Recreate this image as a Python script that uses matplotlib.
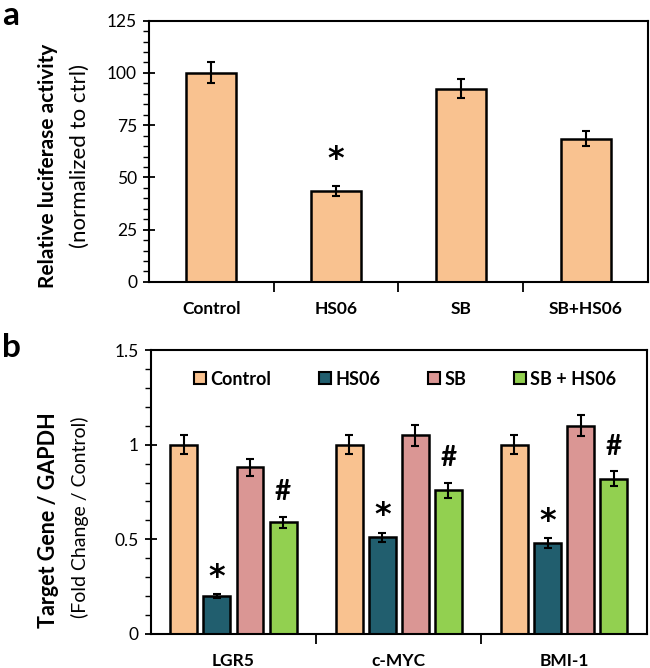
import numpy as np
import matplotlib
matplotlib.use("Agg")
import matplotlib.pyplot as plt
from matplotlib.ticker import MultipleLocator
from matplotlib.lines import Line2D

plt.rcParams['font.family'] = ['Lato', 'DejaVu Sans']

# panel a data
a_groups = ['Control', 'HS06', 'SB', 'SB+HS06']
a_values = [100, 43.5, 92.5, 68.5]
a_errors = [5, 2.5, 4.5, 3.5]
a_marks = ['', '*', '', '']

# panel b data
b_genes = ['LGR5', 'c-MYC', 'BMI-1']
b_series = ['Control', 'HS06', 'SB', 'SB + HS06']
b_values = [[1.00, 1.00, 1.00],
            [0.20, 0.51, 0.48],
            [0.88, 1.05, 1.10],
            [0.59, 0.76, 0.82]]
b_errors = [[0.05, 0.05, 0.05],
            [0.01, 0.025, 0.025],
            [0.045, 0.055, 0.055],
            [0.03, 0.04, 0.04]]
b_marks = [['', '', ''], ['*', '*', '*'], ['', '', ''], ['#', '#', '#']]

colors = ['#F9C290', '#215E6E', '#DA9694', '#92D050']

fig = plt.figure(figsize=(6.5, 6.68), dpi=100)


def style_axes(ax):
    for s in ax.spines.values():
        s.set_linewidth(1.5)
    ax.tick_params(axis='y', which='major', direction='inout', length=9, width=1.3,
                   labelsize=12.5, pad=4)
    ax.tick_params(axis='y', which='minor', direction='out', length=4, width=1.0)
    ax.tick_params(axis='x', which='major', length=0, labelsize=12.5, pad=14)
    ax.tick_params(axis='x', which='minor', direction='out', length=7, width=1.3)
    for lbl in ax.get_xticklabels():
        lbl.set_fontweight('bold')


def mark(ax, x, y, m):
    # star drawn in DejaVu (larger, centred glyph), hash in Lato
    if m == '*':
        ax.text(x, y, m, ha='center', va='center', fontsize=23, fontweight='bold',
                family='DejaVu Sans')
    else:
        ax.text(x, y, m, ha='center', va='center', fontsize=20, fontweight='bold')


# ---- panel a ----
ax1 = fig.add_axes([0.229, 0.578, 0.768, 0.391])
x = np.arange(len(a_groups))
ax1.bar(x, a_values, width=0.4, color=colors[0], edgecolor='black', linewidth=1.8, zorder=2)
ax1.errorbar(x, a_values, yerr=a_errors, fmt='none', ecolor='black', elinewidth=1.5,
             capsize=3, capthick=1.5, zorder=3)
for xi, v, e, m in zip(x, a_values, a_errors, a_marks):
    if m:
        mark(ax1, xi, v + e + 12.5, m)
ax1.set_xlim(-0.5, len(a_groups) - 0.5)
ax1.set_ylim(0, 125)
ax1.set_xticks(x)
ax1.set_xticklabels(a_groups)
ax1.set_xticks(np.arange(0.5, len(a_groups) - 1), minor=True)
ax1.yaxis.set_major_locator(MultipleLocator(25))
ax1.yaxis.set_minor_locator(MultipleLocator(5))
style_axes(ax1)

# ---- panel b ----
ax2 = fig.add_axes([0.232, 0.051, 0.763, 0.425])
xg = np.arange(len(b_genes))
pitch = 0.2
for i, name in enumerate(b_series):
    xs = xg + (i - 1.5) * pitch
    ax2.bar(xs, b_values[i], width=0.163, color=colors[i], edgecolor='black',
            linewidth=1.8, zorder=2)
    ax2.errorbar(xs, b_values[i], yerr=b_errors[i], fmt='none', ecolor='black',
                 elinewidth=1.5, capsize=3, capthick=1.5, zorder=3)
    for xv, v, e, m in zip(xs, b_values[i], b_errors[i], b_marks[i]):
        if m == '*':
            mark(ax2, xv, v + e + 0.09, m)
        elif m:
            mark(ax2, xv, v + e + 0.13, m)
ax2.set_xlim(-0.5, len(b_genes) - 0.5)
ax2.set_ylim(0, 1.5)
ax2.set_xticks(xg)
ax2.set_xticklabels(b_genes)
ax2.set_xticks(np.arange(0.5, len(b_genes) - 1), minor=True)
ax2.yaxis.set_major_locator(MultipleLocator(0.5))
ax2.yaxis.set_minor_locator(MultipleLocator(0.1))
ax2.yaxis.set_major_formatter(matplotlib.ticker.FuncFormatter(lambda v, p: f'{v:g}'))
style_axes(ax2)

handles = [Line2D([], [], marker='s', linestyle='none', markersize=9,
                  markerfacecolor=c, markeredgecolor='black', markeredgewidth=1.5)
           for c in colors]
ax2.legend(handles, b_series, loc='upper center', bbox_to_anchor=(0.51, 0.985), ncol=4,
           frameon=False, prop={'weight': 'bold', 'size': 13}, handletextpad=0.05,
           columnspacing=2.5, handlelength=1.0)

# axis titles and panel letters
fig.text(0.074, 0.752, 'Relative luciferase activity', rotation=90, ha='center',
         va='center', fontsize=15, fontweight='bold')
fig.text(0.123, 0.766, '(normalized to ctrl)', rotation=90, ha='center',
         va='center', fontsize=16)
fig.text(0.074, 0.222, 'Target Gene / GAPDH', rotation=90, ha='center',
         va='center', fontsize=15.5, fontweight='bold')
fig.text(0.123, 0.226, '(Fold Change / Control)', rotation=90, ha='center',
         va='center', fontsize=14)
fig.text(0.003, 0.998, 'a', ha='left', va='top', fontsize=24, fontweight='bold')
fig.text(0.003, 0.501, 'b', ha='left', va='top', fontsize=24, fontweight='bold')

fig.savefig('out.png', dpi=100)
